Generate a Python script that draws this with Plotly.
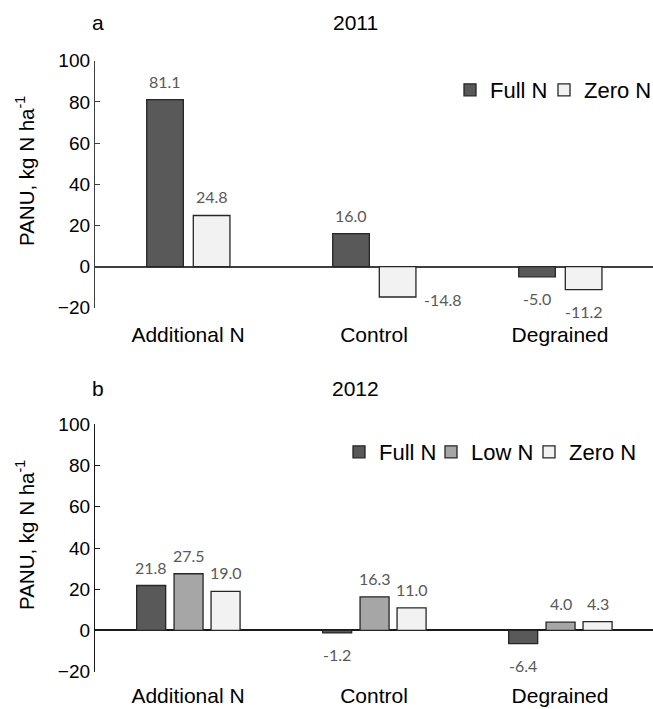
import plotly.graph_objects as go

# ---------------- data ----------------
categories = ["Additional N", "Control", "Degrained"]
full_2011 = [81.1, 16.0, -5.0]
zero_2011 = [24.8, -14.8, -11.2]
full_2012 = [21.8, -1.2, -6.4]
low_2012 = [27.5, 16.3, 4.0]
zero_2012 = [19.0, 11.0, 4.3]
y_ticks = [-20, 0, 20, 40, 60, 80, 100]

# ---------------- style ----------------
W, H = 653, 709
colors = {"Full N": "#595959", "Low N": "#a6a6a6", "Zero N": "#f2f2f2"}
outline = "#262626"
label_color = "#595959"
axis_color_top = "#404040"
axis_color_bot = "#1a1a1a"

# bar geometry (offset, width in category units)
geom_2011 = {"Full N": (-0.222, 0.197), "Zero N": (0.0285, 0.197)}
geom_2012 = {"Full N": (-0.276, 0.156), "Low N": (-0.075, 0.156), "Zero N": (0.124, 0.156)}

# legend entry widths (px) per panel / series
legend_entry = {("2011", "Full N"): 49, ("2011", "Zero N"): 0,
                ("2012", "Full N"): 47, ("2012", "Low N"): 53, ("2012", "Zero N"): 0}

# special label shifts (panel, series, category index) -> (xshift, yshift)
special_shift = {("2011", "Zero N", 1): (45, -2)}

def py(pix):
    return 1 - pix / H

x_dom = [95 / W, 1.0]
top_dom = [py(307.7), py(60.7)]
bot_dom = [py(671.7), py(424.3)]

fig = go.Figure()

panels = [
    ("2011", "x", "y", "legend", [("Full N", full_2011), ("Zero N", zero_2011)], geom_2011),
    ("2012", "x2", "y2", "legend2", [("Full N", full_2012), ("Low N", low_2012), ("Zero N", zero_2012)], geom_2012),
]

annotations = []
for year, xa, ya, lg, series, geom in panels:
    for name, vals in series:
        off, wid = geom[name]
        tr = dict(
            x=categories, y=vals, name=name,
            xaxis=xa, yaxis=ya, legend=lg,
            offset=off, width=wid,
            marker=dict(color=colors[name], line=dict(color=outline, width=1.3)),
            showlegend=True,
        )
        if legend_entry[(year, name)]:
            tr["legendwidth"] = legend_entry[(year, name)]
        fig.add_trace(go.Bar(**tr))
        for i, v in enumerate(vals):
            xs, ys = special_shift.get((year, name, i), (0, 18.5 if v >= 0 else -22))
            annotations.append(dict(
                x=i + off + wid / 2, y=v, xref=xa, yref=ya,
                text=f"{v:.1f}", showarrow=False,
                xanchor="center", yanchor="middle",
                xshift=xs, yshift=ys,
                font=dict(family="Lato, sans-serif", size=16, color=label_color),
            ))

# panel titles
for letter, year, ypix in [("a", "2011", 23), ("b", "2012", 388)]:
    annotations.append(dict(x=98 / W, y=py(ypix), xref="paper", yref="paper", text=letter,
                            showarrow=False, xanchor="center", yanchor="middle",
                            font=dict(family="Liberation Sans, Arial", size=21, color="#000")))
    annotations.append(dict(x=355 / W, y=py(ypix), xref="paper", yref="paper", text=year,
                            showarrow=False, xanchor="center", yanchor="middle",
                            font=dict(family="Liberation Sans, Arial", size=21, color="#000")))

# y axis titles
for ypix in [171, 535]:
    annotations.append(dict(x=25 / W, y=py(ypix), xref="paper", yref="paper",
                            text="PANU, kg N ha<sup>-1</sup>", textangle=-90, showarrow=False,
                            xanchor="center", yanchor="middle",
                            font=dict(family="Liberation Sans, Arial", size=20.5, color="#000")))

tick_font = dict(family="Liberation Sans, Arial", size=19, color="#000")
cat_font = dict(family="Liberation Sans, Arial", size=21, color="#000")

def yaxis(dom, col):
    return dict(domain=dom, range=[-20, 100], tickvals=y_ticks, ticks="inside", ticklen=5,
                tickcolor=col, tickwidth=1.3, showline=True, linecolor=col, linewidth=1.3,
                showgrid=False, zeroline=True, zerolinecolor=col, zerolinewidth=2,
                tickfont=tick_font, fixedrange=True)

def xaxis(anchor, tl):
    return dict(domain=x_dom, anchor=anchor, type="category", range=[-0.5, 2.5],
                showline=False, showgrid=False, zeroline=False,
                ticks="outside", ticklen=tl, tickcolor="rgba(0,0,0,0)",
                tickfont=cat_font, fixedrange=True)

leg_font = dict(family="Liberation Sans, Arial", size=22, color="#000")
fig.update_layout(
    width=W, height=H,
    margin=dict(l=0, r=0, t=0, b=0, autoexpand=False),
    paper_bgcolor="white", plot_bgcolor="white",
    barmode="overlay",
    xaxis=xaxis("y", 8), yaxis=dict(yaxis(top_dom, axis_color_top), anchor="x"),
    xaxis2=xaxis("y2", 5), yaxis2=dict(yaxis(bot_dom, axis_color_bot), anchor="x2"),
    legend=dict(orientation="h", x=450 / W, y=py(90), xanchor="left", yanchor="middle",
                font=leg_font, bgcolor="rgba(0,0,0,0)", itemclick=False, itemdoubleclick=False),
    legend2=dict(orientation="h", x=339 / W, y=py(452), xanchor="left", yanchor="middle",
                 font=leg_font, bgcolor="rgba(0,0,0,0)", itemclick=False, itemdoubleclick=False),
    annotations=annotations,
    showlegend=True,
)

fig.write_html("out.html")
